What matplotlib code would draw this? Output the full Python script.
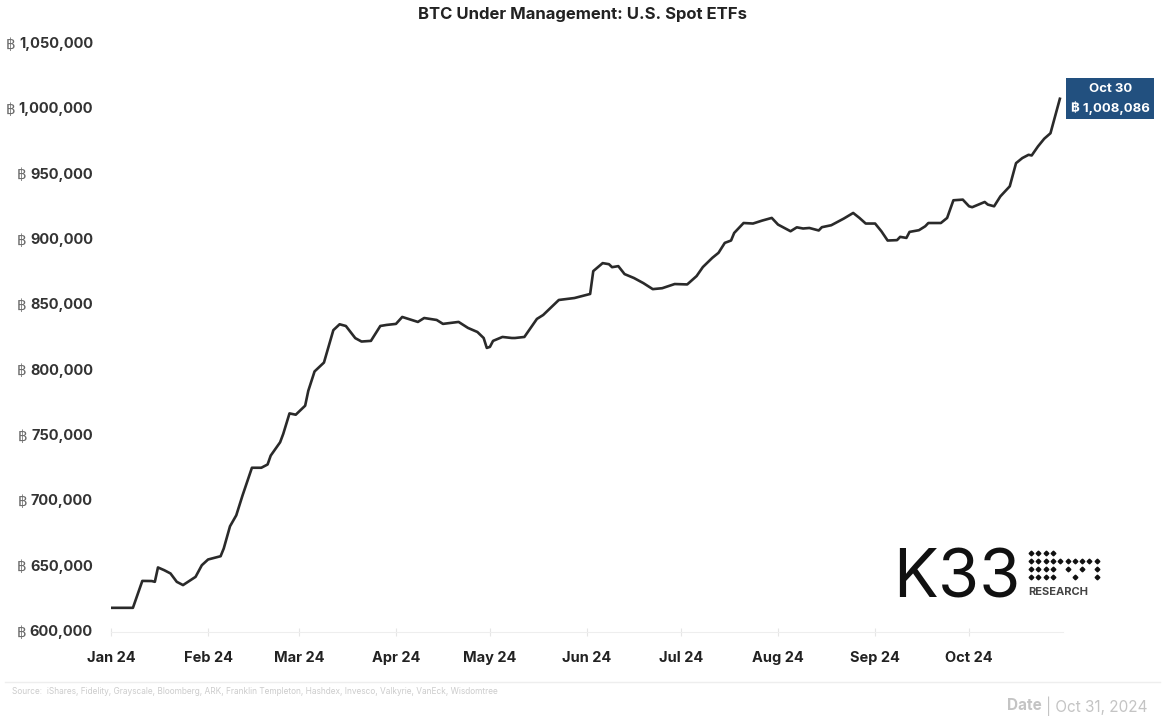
import matplotlib
matplotlib.use('Agg')
import matplotlib.pyplot as plt
import matplotlib.dates as mdates
import numpy as np
import pandas as pd

plt.rcParams['font.family'] = ['Inter', 'DejaVu Sans']

# BTC held by U.S. spot ETFs
dates = ['2024-01-01', '2024-01-08', '2024-01-11', '2024-01-14', '2024-01-15', '2024-01-16',
         '2024-01-18', '2024-01-20', '2024-01-22', '2024-01-24', '2024-01-26', '2024-01-28',
         '2024-01-30', '2024-02-01', '2024-02-05', '2024-02-06', '2024-02-08', '2024-02-10',
         '2024-02-12', '2024-02-15', '2024-02-18', '2024-02-20', '2024-02-21', '2024-02-24',
         '2024-02-25', '2024-02-27', '2024-02-29', '2024-03-03', '2024-03-04', '2024-03-06',
         '2024-03-09', '2024-03-12', '2024-03-14', '2024-03-16', '2024-03-19', '2024-03-21',
         '2024-03-24', '2024-03-26', '2024-03-27', '2024-03-29', '2024-04-01', '2024-04-03',
         '2024-04-05', '2024-04-08', '2024-04-10', '2024-04-14', '2024-04-16', '2024-04-21',
         '2024-04-24', '2024-04-27', '2024-04-29', '2024-04-30', '2024-05-01', '2024-05-02',
         '2024-05-05', '2024-05-08', '2024-05-09', '2024-05-12', '2024-05-14', '2024-05-16',
         '2024-05-18', '2024-05-20', '2024-05-23', '2024-05-28', '2024-06-02', '2024-06-03',
         '2024-06-06', '2024-06-08', '2024-06-09', '2024-06-11', '2024-06-13', '2024-06-16',
         '2024-06-19', '2024-06-22', '2024-06-25', '2024-06-29', '2024-07-03', '2024-07-06',
         '2024-07-08', '2024-07-11', '2024-07-13', '2024-07-15', '2024-07-17', '2024-07-18',
         '2024-07-21', '2024-07-24', '2024-07-27', '2024-07-30', '2024-08-01', '2024-08-05',
         '2024-08-07', '2024-08-09', '2024-08-11', '2024-08-14', '2024-08-15', '2024-08-18',
         '2024-08-22', '2024-08-25', '2024-08-27', '2024-08-29', '2024-09-01', '2024-09-03',
         '2024-09-05', '2024-09-08', '2024-09-09', '2024-09-11', '2024-09-12', '2024-09-15',
         '2024-09-17', '2024-09-18', '2024-09-22', '2024-09-24', '2024-09-26', '2024-09-29',
         '2024-10-01', '2024-10-02', '2024-10-06', '2024-10-07', '2024-10-09', '2024-10-11',
         '2024-10-14', '2024-10-16', '2024-10-18', '2024-10-20', '2024-10-21', '2024-10-23',
         '2024-10-25', '2024-10-27', '2024-10-30']
btc = [618500, 618500, 639100, 639000, 638400, 649400,
       647300, 644800, 638400, 635900, 639100, 642200,
       651100, 655500, 658000, 663900, 680900, 689300,
       704500, 725700, 725700, 728200, 735000, 745200,
       751600, 767300, 766300, 773200, 784600, 799400,
       806200, 831000, 835500, 834200, 824900, 822300,
       822800, 830400, 834200, 835000, 835800, 841100,
       839600, 837300, 840300, 838800, 835800, 837300,
       832700, 829600, 825000, 817400, 818200, 822800,
       825800, 825000, 825000, 825800, 832700, 839600,
       842600, 847200, 854100, 855600, 858700, 876200,
       882300, 881500, 879200, 880000, 873900, 870900,
       867000, 862400, 863100, 866300, 866000, 872400,
       879300, 886300, 890200, 897800, 899600, 905400,
       913000, 912600, 914900, 916900, 911800, 906700,
       909700, 908800, 909200, 907300, 909800, 911300,
       916400, 920700, 916900, 912600, 912600, 906700,
       899600, 899900, 902400, 901600, 906200, 907500,
       910500, 913000, 913000, 916900, 930400, 930900,
       925800, 925100, 929100, 927100, 925800, 933400,
       941100, 958800, 962700, 965200, 964700, 971600,
       977500, 981700, 1008086]
y_ticks = [600000, 650000, 700000, 750000, 800000, 850000, 900000, 950000, 1000000, 1050000]

x = pd.to_datetime(dates)

fig = plt.figure(figsize=(11.66, 7.2), dpi=100)
ax = fig.add_axes([111/1166, 1-632/720, (1063-111)/1166, (632-44)/720])

ax.plot(x, btc, color='#2a2a2a', lw=1.9, solid_joinstyle='round')

ax.set_xlim(pd.Timestamp('2024-01-01'), pd.Timestamp('2024-10-31'))
ax.set_ylim(600000, 1050000)
for s in ['top', 'right', 'left']:
    ax.spines[s].set_visible(False)
ax.spines['bottom'].set_color('#eeeeee')
ax.xaxis.set_major_locator(mdates.MonthLocator())
ax.xaxis.set_major_formatter(mdates.DateFormatter('%b %y'))
ax.tick_params(axis='x', length=6, direction='inout', color='#e6e6e6', pad=11,
               labelsize=10.5, labelcolor='#222222')
for lab in ax.get_xticklabels():
    lab.set_fontweight('bold')

ax.set_yticks(y_ticks)
ax.tick_params(axis='y', length=0, labelleft=False)
for v in y_ticks:
    t = ax.annotate(f'{v:,}', xy=(0, v), xycoords=('axes fraction', 'data'),
                    xytext=(-13, 0), textcoords='offset points', ha='right', va='center',
                    fontsize=10.5, fontweight='bold', color='#333333')
    ax.annotate('\u0e3f', xy=(0, 0.5), xycoords=t, xytext=(-2.5, 0), textcoords='offset points',
                ha='right', va='center', fontsize=11, color='#6a6a6a',
                family=['DejaVu Sans', 'Noto Sans'])

# end label
ax.annotate(f'Oct 30\n\u0e3f {btc[-1]:,}', xy=(x[-1], btc[-1]), xytext=(8, 0),
            textcoords='offset points', ha='left', va='center', fontsize=9.5,
            fontweight='bold', color='white', linespacing=1.5, multialignment='center',
            family=['Inter', 'DejaVu Sans'],
            bbox=dict(boxstyle='square,pad=0.35', fc='#22507f', ec='none'),
            annotation_clip=False)

fig.text(0.5, 1-15/720, 'BTC Under Management: U.S. Spot ETFs', ha='center', va='center',
         fontsize=12, fontweight='bold', color='#222222')

# footer
fig.add_artist(plt.Line2D([5/1166, 1160/1166], [1-682/720, 1-682/720], color='#eeeeee', lw=1))
fig.text(12/1166, 1-692/720, 'Source:  iShares, Fidelity, Grayscale, Bloomberg, ARK, Franklin Templeton, '
         'Hashdex, Invesco, Valkyrie, VanEck, Wisdomtree', ha='left', va='center',
         fontsize=6, color='#cccccc')
d = fig.text(1147/1166, 1-706/720, '| Oct 31, 2024', ha='right', va='center', fontsize=11,
             color='#c4c4c4')
fig.add_artist(plt.Annotation('Date ', xy=(0, 0.5), xycoords=d, ha='right', va='center',
                              fontsize=11, fontweight='bold', color='#c4c4c4',
                              annotation_clip=False))

# K33 logo
fig.text(893/1166, 1-598/720, 'K33', ha='left', va='baseline', fontsize=48,
         color='#111111', fontweight='normal')
pattern = ['1111000000',
           '1111111111',
           '1111010101',
           '1111001001']
px, py = [], []
for r, row in enumerate(pattern):
    for c, ch in enumerate(row):
        if ch == '1':
            px.append((1031 + c * 7.3) / 1166)
            py.append(1 - (553 + r * 8) / 720)
fig.add_artist(plt.Line2D(px, py, ls='none', marker='D', ms=2.4, color='#111111'))
fig.text(1028/1166, 1-592/720, 'RESEARCH', ha='left', va='center', fontsize=8,
         fontweight='bold', color='#444444')

fig.savefig('out.png', dpi=100)
